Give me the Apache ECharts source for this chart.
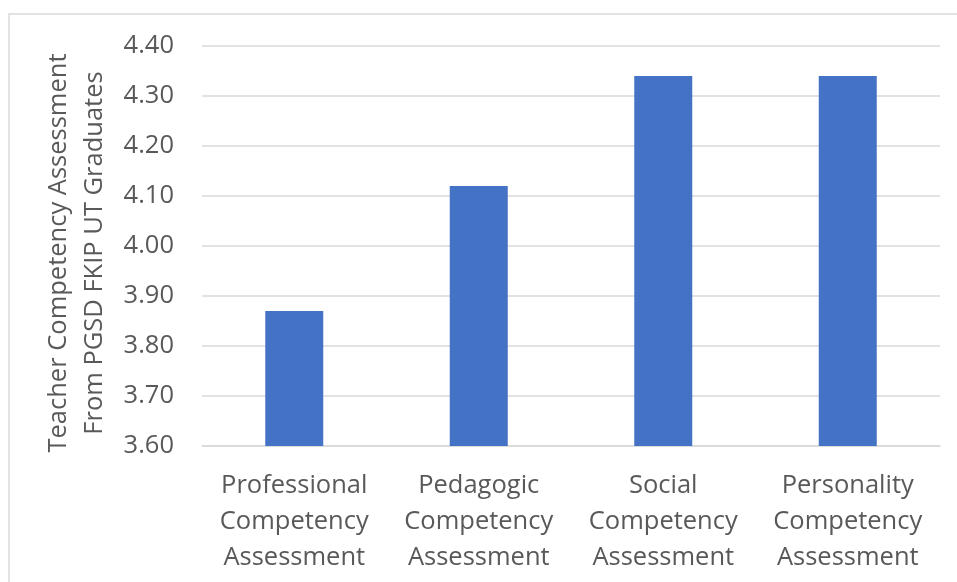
<!DOCTYPE html>
<html>
<head>
<meta charset="utf-8">
<script src="https://cdn.jsdelivr.net/npm/echarts@6/dist/echarts.min.js"></script>
<style>
html,body{margin:0;padding:0;background:#fff;}
#chart{width:957px;height:582px;}
</style>
</head>
<body>
<div id="chart"></div>
<script>
const categories = [
  'Professional\nCompetency\nAssessment',
  'Pedagogic\nCompetency\nAssessment',
  'Social\nCompetency\nAssessment',
  'Personality\nCompetency\nAssessment'
];
const values = [3.87, 4.12, 4.34, 4.34];
const yAxisTitle = 'Teacher Competency Assessment\nFrom PGSD FKIP UT Graduates';

const chart = echarts.init(document.getElementById('chart'));
const font = 'Open Sans';
const textColor = '#595959';
const fs = 25.5;
chart.setOption({
  animation: false,
  backgroundColor: '#fff',
  graphic: [{
    type: 'rect',
    shape: { x: 9, y: 14, width: 980, height: 620 },
    style: { fill: 'none', stroke: '#d9d9d9', lineWidth: 1.5 },
    silent: true
  }],
  grid: { left: 202, right: 17, top: 46, bottom: 136 },
  xAxis: {
    type: 'category',
    data: categories,
    axisTick: { show: false },
    axisLine: { lineStyle: { color: '#d9d9d9', width: 1.5 } },
    axisLabel: {
      color: textColor, fontFamily: font, fontSize: fs, lineHeight: 36,
      margin: 22, interval: 0
    }
  },
  yAxis: {
    type: 'value',
    min: 3.6, max: 4.4, interval: 0.1,
    name: yAxisTitle,
    nameLocation: 'middle',
    nameRotate: 90,
    nameGap: 119,
    nameTextStyle: {
      color: textColor, fontFamily: font, fontSize: fs, lineHeight: 36,
      align: 'center', verticalAlign: 'middle',
      padding: [0, 14, 0, 0]
    },
    axisLine: { show: false },
    axisTick: { show: false },
    splitLine: { lineStyle: { color: '#d9d9d9', width: 1.5 } },
    axisLabel: {
      color: textColor, fontFamily: font, fontSize: fs, margin: 28,
      formatter: v => v.toFixed(2)
    }
  },
  series: [{
    type: 'bar',
    data: values,
    barWidth: 58,
    itemStyle: { color: '#4472C4' }
  }]
});
</script>
</body>
</html>
